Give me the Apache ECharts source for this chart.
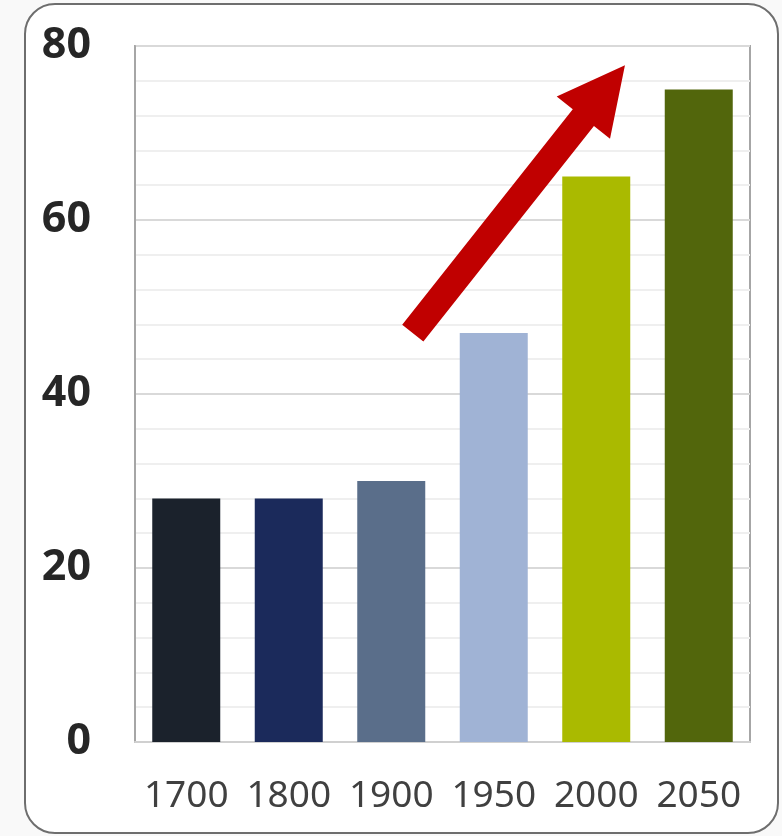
<!DOCTYPE html>
<html>
<head>
<meta charset="utf-8">
<script src="https://cdn.jsdelivr.net/npm/echarts@6/dist/echarts.min.js"></script>
<style>
  html, body { margin: 0; padding: 0; background: #f9f9f9; }
  #chart { width: 782px; height: 836px; }
</style>
</head>
<body>
<div id="chart"></div>
<script>
// data
const years = ['1700', '1800', '1900', '1950', '2000', '2050'];
const values = [28, 28, 30, 47, 65, 75];
const barColors = ['#1B222C', '#1B2A5B', '#5A6E8A', '#A0B3D5', '#AABA00', '#52660C'];
const yTicks = [0, 20, 40, 60, 80];
// trend arrow, in (category index, value) coordinates
const arrowFrom = [2.21, 47];
const arrowTo = [4.28, 77.8];

const chart = echarts.init(document.getElementById('chart'));

const option = {
    backgroundColor: 'transparent',
    animation: false,
    grid: {
        left: 135,
        right: 32,
        top: 46,
        bottom: 94,
        show: true,
        borderColor: '#a6a6a6',
        borderWidth: 2
    },
    xAxis: {
        type: 'category',
        data: years,
        axisLine: { lineStyle: { color: '#d0d0d0', width: 2 } },
        axisTick: { show: false },
        axisLabel: {
            interval: 0,
            hideOverlap: false,
            color: '#404040',
            fontSize: 37,
            fontFamily: 'Noto Sans',
            margin: 36
        }
    },
    yAxis: {
        type: 'value',
        min: yTicks[0],
        max: yTicks[yTicks.length - 1],
        interval: 20,
        axisLine: { show: true, lineStyle: { color: '#a6a6a6', width: 2 } },
        axisTick: { show: false },
        axisLabel: {
            color: '#262626',
            fontSize: 43,
            fontWeight: 'bold',
            fontFamily: 'Noto Sans',
            margin: 44,
            padding: [4, 0, 0, 0]
        },
        splitLine: { lineStyle: { color: '#d9d9d9', width: 2 } },
        minorTick: { show: false, splitNumber: 5 },
        minorSplitLine: { show: true, lineStyle: { color: '#efefef', width: 2 } }
    },
    series: [
        {
            type: 'bar',
            barWidth: 68,
            data: values.map((v, i) => ({ value: v, itemStyle: { color: barColors[i] } }))
        }
    ]
};

chart.setOption(option);

// pixel of a fractional category index and value
function toPixel(pt) {
    const i0 = Math.floor(pt[0]);
    const a = chart.convertToPixel({ gridIndex: 0 }, [i0, pt[1]]);
    const b = chart.convertToPixel({ gridIndex: 0 }, [i0 + 1, pt[1]]);
    const f = pt[0] - i0;
    return [a[0] + (b[0] - a[0]) * f, a[1]];
}

const p0 = toPixel(arrowFrom);
const p1 = toPixel(arrowTo);
const dx = p1[0] - p0[0], dy = p1[1] - p0[1];
const len = Math.sqrt(dx * dx + dy * dy);
const ux = dx / len, uy = dy / len;
const nx = -uy, ny = ux;
const shaftHalf = 13.5, headHalf = 34, headLen = 67;
const neck = [p1[0] - ux * headLen, p1[1] - uy * headLen];
const arrowPts = [
    [p0[0] + nx * shaftHalf, p0[1] + ny * shaftHalf],
    [neck[0] + nx * shaftHalf, neck[1] + ny * shaftHalf],
    [neck[0] + nx * headHalf, neck[1] + ny * headHalf],
    p1,
    [neck[0] - nx * headHalf, neck[1] - ny * headHalf],
    [neck[0] - nx * shaftHalf, neck[1] - ny * shaftHalf],
    [p0[0] - nx * shaftHalf, p0[1] - ny * shaftHalf]
];

chart.setOption({
    graphic: [
        {
            type: 'rect',
            z: -10,
            silent: true,
            shape: { x: 25, y: 4, width: 753, height: 829, r: 30 },
            style: { fill: '#ffffff', stroke: '#6e6e6e', lineWidth: 2 }
        },
        {
            type: 'polygon',
            z: 100,
            silent: true,
            shape: { points: arrowPts },
            style: { fill: '#C00000' }
        }
    ]
});

window.addEventListener('resize', () => chart.resize());
</script>
</body>
</html>
